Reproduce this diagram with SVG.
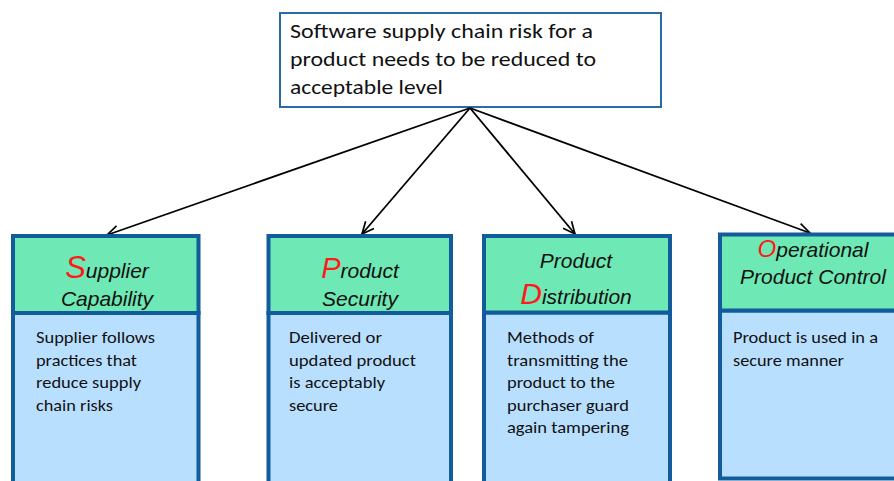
<svg xmlns="http://www.w3.org/2000/svg" width="894" height="481" viewBox="0 0 894 481">
  <defs>
    <marker id="arr" viewBox="0 0 14 14" refX="13" refY="7" markerWidth="14" markerHeight="14" markerUnits="userSpaceOnUse" orient="auto">
      <path d="M1,1.5 L13,7 L1,12.5" fill="none" stroke="#000" stroke-width="1.7"/>
    </marker>
  </defs>
  <style>
    .hdr { fill: #6EE8B4; stroke: #135C9C; stroke-width: 4; }
    .bdy { fill: #B9DFFF; stroke: #135C9C; stroke-width: 4; }
    .ttl { font-family: Carlito, "Liberation Sans", Arial, sans-serif; font-size: 21px; fill: #111; }
    .txt { font-family: Carlito, "Liberation Sans", Arial, sans-serif; font-size: 16px; fill: #111; }
    .h { font-family: "Liberation Sans", Arial, sans-serif; font-style: italic; font-size: 21px; fill: #111; text-anchor: middle; }
    .red { fill: #FF1A1A; }
    .conn { stroke: #000; stroke-width: 1.8; fill: none; marker-end: url(#arr); }
  </style>
  <rect width="894" height="481" fill="#fff"/>

  <g id="goal">
    <rect x="280" y="13" width="381" height="94" fill="#fff" stroke="#2A6AA6" stroke-width="2"/>
    <text class="ttl" x="290" y="38" textLength="303" lengthAdjust="spacingAndGlyphs">Software supply chain risk for a</text>
    <text class="ttl" x="290" y="66" textLength="306" lengthAdjust="spacingAndGlyphs">product needs to be reduced to</text>
    <text class="ttl" x="290" y="94" textLength="153" lengthAdjust="spacingAndGlyphs">acceptable level</text>
  </g>

  <g id="connectors">
    <line class="conn" x1="470" y1="108" x2="107" y2="235"/>
    <line class="conn" x1="470" y1="108" x2="362" y2="234"/>
    <line class="conn" x1="470" y1="108" x2="575" y2="234"/>
    <line class="conn" x1="470" y1="108" x2="810" y2="233"/>
  </g>

  <g id="supplier">
    <rect class="bdy" x="13" y="313" width="185.5" height="180"/>
    <rect class="hdr" x="13" y="236" width="185.5" height="77"/>
    <text class="h" x="107" y="278"><tspan class="red" font-size="31">S</tspan>upplier</text>
    <text class="h" x="107" y="306">Capability</text>
    <text class="txt" x="36" y="343" textLength="119" lengthAdjust="spacingAndGlyphs">Supplier follows</text>
    <text class="txt" x="36" y="365.5" textLength="101" lengthAdjust="spacingAndGlyphs">practices that</text>
    <text class="txt" x="36" y="388" textLength="105" lengthAdjust="spacingAndGlyphs">reduce supply</text>
    <text class="txt" x="36" y="410.5" textLength="77" lengthAdjust="spacingAndGlyphs">chain risks</text>
  </g>

  <g id="product-security">
    <rect class="bdy" x="268.5" y="313" width="182.5" height="180"/>
    <rect class="hdr" x="268.5" y="236" width="182.5" height="77"/>
    <text class="h" x="360" y="278" font-size="20.5"><tspan class="red" font-size="29">P</tspan>roduct</text>
    <text class="h" x="360" y="306" font-size="19.5">Security</text>
    <text class="txt" x="289" y="343" textLength="93" lengthAdjust="spacingAndGlyphs">Delivered or</text>
    <text class="txt" x="289" y="365.5" textLength="127" lengthAdjust="spacingAndGlyphs">updated product</text>
    <text class="txt" x="289" y="388" textLength="96" lengthAdjust="spacingAndGlyphs">is acceptably</text>
    <text class="txt" x="289" y="410.5" textLength="49" lengthAdjust="spacingAndGlyphs">secure</text>
  </g>

  <g id="product-distribution">
    <rect class="bdy" x="484" y="312.5" width="186" height="180"/>
    <rect class="hdr" x="484" y="236" width="186" height="76.5"/>
    <text class="h" x="576" y="268" font-size="18.5">Product</text>
    <text class="h" x="576" y="304" font-size="20"><tspan class="red" font-size="30">D</tspan>istribution</text>
    <text class="txt" x="507" y="343" textLength="87" lengthAdjust="spacingAndGlyphs">Methods of</text>
    <text class="txt" x="507" y="365.5" textLength="121" lengthAdjust="spacingAndGlyphs">transmitting the</text>
    <text class="txt" x="507" y="388" textLength="108" lengthAdjust="spacingAndGlyphs">product to the</text>
    <text class="txt" x="507" y="410.5" textLength="122" lengthAdjust="spacingAndGlyphs">purchaser guard</text>
    <text class="txt" x="507" y="433" textLength="122" lengthAdjust="spacingAndGlyphs">again tampering</text>
  </g>

  <g id="operational-control">
    <rect class="bdy" x="720" y="310.5" width="190" height="168"/>
    <rect class="hdr" x="720" y="234.5" width="190" height="76"/>
    <text class="h" x="813" y="257" font-size="21.5"><tspan class="red" font-size="24">O</tspan>perational</text>
    <text class="h" x="813" y="284" font-size="21.5">Product Control</text>
    <text class="txt" x="733" y="343" textLength="145" lengthAdjust="spacingAndGlyphs">Product is used in a</text>
    <text class="txt" x="733" y="365.5" textLength="111" lengthAdjust="spacingAndGlyphs">secure manner</text>
  </g>
</svg>
